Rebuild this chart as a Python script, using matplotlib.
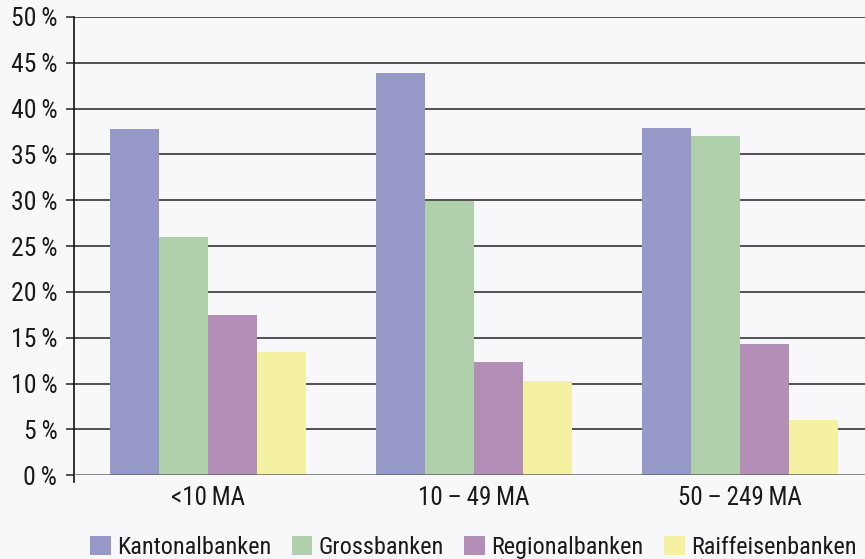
import matplotlib
matplotlib.use("Agg")
import matplotlib.pyplot as plt
import numpy as np
from matplotlib import font_manager

categories = ["<10\u2009MA", "10\u2009\u2013\u200949\u2009MA", "50\u2009\u2013\u2009249\u2009MA"]
series_names = ["Kantonalbanken", "Grossbanken", "Regionalbanken", "Raiffeisenbanken"]
kantonal = [37.8, 43.9, 37.9]
gross = [26.0, 29.9, 37.0]
regional = [17.5, 12.4, 14.3]
raiffeisen = [13.4, 10.3, 6.0]
y_ticks = [0, 5, 10, 15, 20, 25, 30, 35, 40, 45, 50]

colors = ["#9698c8", "#b0cfab", "#b38fb8", "#f5f1a3"]
bg = "#f8f8fa"
text_color = "#1a1a1a"

# prefer a condensed sans if one is installed
names = {f.name for f in font_manager.fontManager.ttflist}
family = "Roboto"
for cand in ["Roboto Condensed", "Open Sans Condensed", "Liberation Sans Narrow", "Roboto"]:
    if cand in names:
        family = cand
        break
plt.rcParams["font.family"] = [family, "DejaVu Sans"]
fs = 18

fig = plt.figure(figsize=(8.65, 5.59), dpi=100, facecolor=bg)
ax = fig.add_axes([0.0855, 0.150, 0.9145, 0.8196], facecolor=bg)

x = np.arange(len(categories))
w = 0.185
values = [kantonal, gross, regional, raiffeisen]
for i, (name, vals, c) in enumerate(zip(series_names, values, colors)):
    ax.bar(x + (i - 1.5) * w, vals, width=w, color=c, label=name, zorder=3, linewidth=0)

ax.set_xlim(-0.504, 2.47)
ax.set_ylim(0, 50)
ax.set_yticks(y_ticks)
ax.set_yticklabels([f"{t}\u2009%" for t in y_ticks], fontsize=fs + 0.5, color=text_color)
ax.set_xticks(x)
ax.set_xticklabels(categories, fontsize=fs, color=text_color)
ax.tick_params(axis="x", length=0, pad=8)
ax.tick_params(axis="y", length=6, width=1.2, color="#333333", pad=6)

for t in y_ticks[1:]:
    ax.axhline(t, color="#444444", linewidth=1.3, zorder=1)
ax.axhline(0, color="#666666", linewidth=1.8, zorder=4)

for s in ["top", "right", "bottom"]:
    ax.spines[s].set_visible(False)
ax.spines["left"].set_color("#111111")
ax.spines["left"].set_linewidth(1.2)
ax.spines["left"].set_bounds(-0.7, 50)

leg = fig.legend(*ax.get_legend_handles_labels(), loc="lower center",
                 bbox_to_anchor=(0.547, -0.022), ncol=4, frameon=False,
                 fontsize=17.5, handlelength=0.85, handleheight=0.85, handletextpad=0.25,
                 columnspacing=0.85, borderpad=0.0)
for txt in leg.get_texts():
    txt.set_color(text_color)

fig.savefig("out.png", dpi=100, facecolor=bg)
